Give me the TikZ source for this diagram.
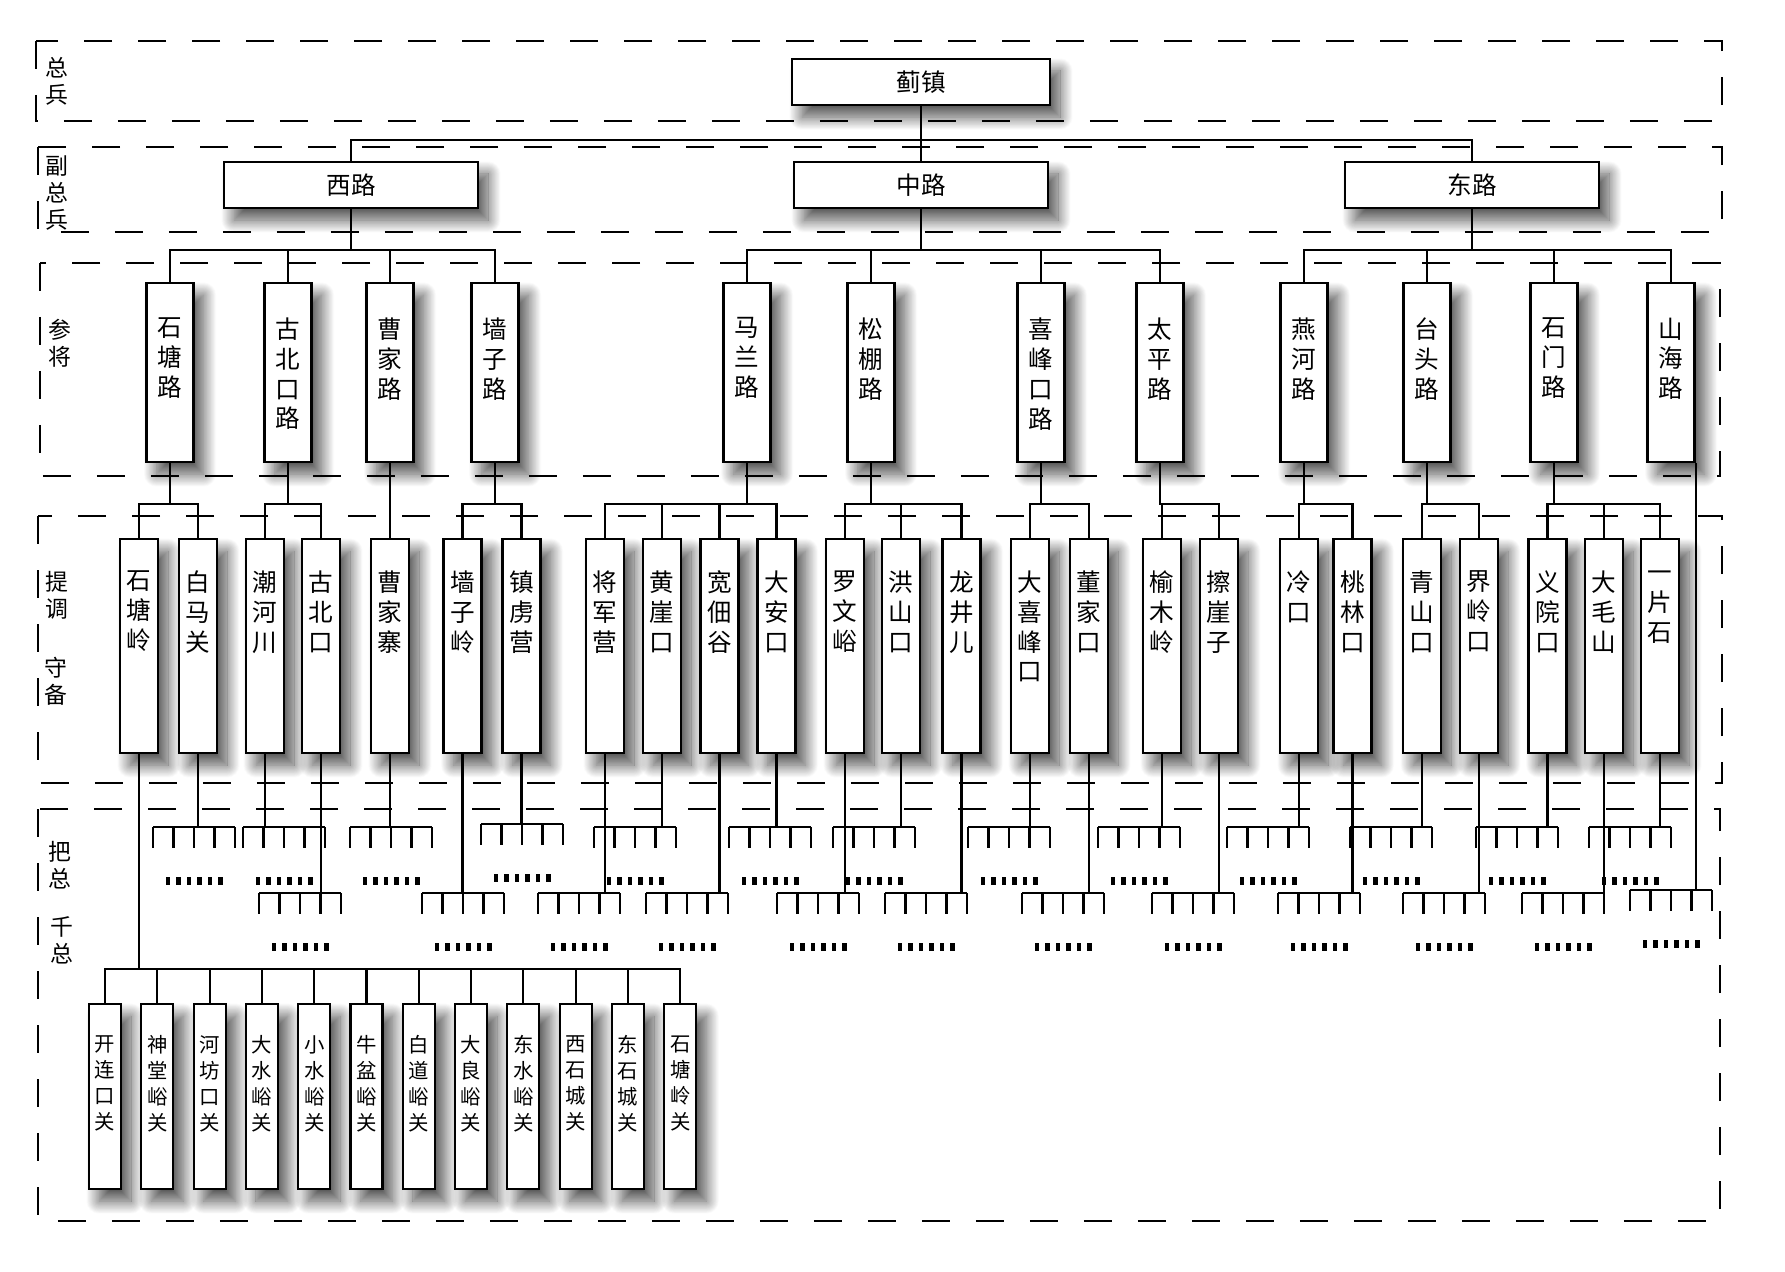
\documentclass[tikz,border=0pt]{standalone}
\usepackage{fontspec}
\setmainfont{Noto Sans CJK SC}
\usepackage{tikz}
\usetikzlibrary{shadows.blur}

\begin{document}
\begin{tikzpicture}[
    x=0.1mm, y=-0.1mm,
    band/.style={line width=0.8pt, dash pattern=on 2.8mm off 2.6mm},
    conn/.style={line width=0.6pt},
    box/.style={draw, rectangle, fill=white, line width=0.6pt, blur shadow={shadow xshift=1mm, shadow yshift=-1.2mm, shadow blur radius=1.3mm, shadow blur steps=30, shadow opacity=70}},
    head/.style={box, minimum width=25.4mm, minimum height=3.9mm, font=\fontsize{7}{8.5}\selectfont},
    vtext/.style={align=center, inner sep=0pt, anchor=north},
    pillar/.style={box, anchor=north, minimum width=4.7mm, minimum height=17.9mm, label={[vtext, yshift=-3.5mm, font=\fontsize{7}{8.5}\selectfont]north:#1}},
    fort/.style={box, anchor=north, minimum width=3.8mm, minimum height=21.4mm, label={[vtext, yshift=-3.2mm, font=\fontsize{7}{8.5}\selectfont]north:#1}},
    gate/.style={box, anchor=north, minimum width=3.2mm, minimum height=18.5mm, label={[vtext, yshift=-3.2mm, font=\fontsize{5.8}{7.4}\selectfont]north:#1}},
    rank/.style={align=center, inner sep=0pt, font=\fontsize{6.5}{7.7}\selectfont},
    comb/.pic={
      \draw[conn] (0,0) -- (82,0);
      \foreach \tx in {0,20.5,41,61.5,82} \draw[conn] (\tx,0) -- (\tx,21);
      \foreach \dd in {0,...,5} \fill (12.5+10.5*\dd,50) rectangle ++(4.6,8);
    }
]
\useasboundingbox (0,0) rectangle (1785,1272);

% Rank bands
\draw[band] (36,41) rectangle (1722,121);
\draw[band] (38,147) rectangle (1722,232);
\draw[band] (40,263) rectangle (1720,476);
\draw[band] (38,516) rectangle (1722,783);
\draw[band] (38,809) rectangle (1720,1221);

\node (zongbing) [rank] at (57,81) {总\\兵};
\node (fuzongbing) [rank] at (57,193) {副\\总\\兵};
\node (canjiang) [rank] at (60,343) {参\\将};
\node (tidiao) [rank] at (57,595) {提\\调};
\node (shoubei) [rank] at (56,681) {守\\备};
\node (bazong) [rank] at (60,865) {把\\总};
\node (qianzong) [rank] at (62,940) {千\\总};

% Zongbing
\node (jizhen) [head, minimum width=25.8mm, minimum height=4.4mm] at (921,82) {蓟镇};

% Fuzongbing
\node (xilu) [head] at (351,185) {西路};
\node (zhonglu) [head] at (921,185) {中路};
\node (donglu) [head] at (1472,185) {东路};

% Canjiang
\node (shitanglu) [pillar={石\\塘\\路}] at (170,282) {};
\node (gubeikoulu) [pillar={古\\北\\口\\路}] at (288,282) {};
\node (caojialu) [pillar={曹\\家\\路}] at (390,282) {};
\node (qiangzilu) [pillar={墙\\子\\路}] at (495,282) {};
\node (malanlu) [pillar={马\\兰\\路}] at (747,282) {};
\node (songpenglu) [pillar={松\\棚\\路}] at (871,282) {};
\node (xifengkoulu) [pillar={喜\\峰\\口\\路}] at (1041,282) {};
\node (taipinglu) [pillar={太\\平\\路}] at (1160,282) {};
\node (yanhelu) [pillar={燕\\河\\路}] at (1304,282) {};
\node (taitoulu) [pillar={台\\头\\路}] at (1427,282) {};
\node (shimenlu) [pillar={石\\门\\路}] at (1554,282) {};
\node (shanhailu) [pillar={山\\海\\路}] at (1671,282) {};

% Tidiao / Shoubei
\node (shitangling) [fort={石\\塘\\岭}] at (139,538) {};
\node (baimaguan) [fort={白\\马\\关}] at (198,538) {};
\node (chaohechuan) [fort={潮\\河\\川}] at (265,538) {};
\node (gubeikou) [fort={古\\北\\口}] at (321,538) {};
\node (caojiazhai) [fort={曹\\家\\寨}] at (390,538) {};
\node (qiangziling) [fort={墙\\子\\岭}] at (462.5,538) {};
\node (zhenluying) [fort={镇\\虏\\营}] at (521.5,538) {};
\node (jiangjunying) [fort={将\\军\\营}] at (605,538) {};
\node (huangyakou) [fort={黄\\崖\\口}] at (662,538) {};
\node (kuandiangu) [fort={宽\\佃\\谷}] at (719.5,538) {};
\node (daankou) [fort={大\\安\\口}] at (776.5,538) {};
\node (luowenyu) [fort={罗\\文\\峪}] at (845,538) {};
\node (hongshankou) [fort={洪\\山\\口}] at (901,538) {};
\node (longjinger) [fort={龙\\井\\儿}] at (961.5,538) {};
\node (daxifengkou) [fort={大\\喜\\峰\\口}] at (1030,538) {};
\node (dongjiakou) [fort={董\\家\\口}] at (1089,538) {};
\node (yumuling) [fort={榆\\木\\岭}] at (1162,538) {};
\node (cayazi) [fort={擦\\崖\\子}] at (1219,538) {};
\node (lengkou) [fort={冷\\口}] at (1299,538) {};
\node (taolinkou) [fort={桃\\林\\口}] at (1352.5,538) {};
\node (qingshankou) [fort={青\\山\\口}] at (1422,538) {};
\node (jielingkou) [fort={界\\岭\\口}] at (1479,538) {};
\node (yiyuankou) [fort={义\\院\\口}] at (1547.5,538) {};
\node (damaoshan) [fort={大\\毛\\山}] at (1604,538) {};
\node (yipianshi) [fort={一\\片\\石}] at (1660,538) {};

% Tree links
\draw[conn] (jizhen.south) -- ++(0,34) -| (xilu.north);
\draw[conn] (jizhen.south) -- ++(0,34) -| (zhonglu.north);
\draw[conn] (jizhen.south) -- ++(0,34) -| (donglu.north);
\foreach \a/\b in {xilu/shitanglu, xilu/gubeikoulu, xilu/caojialu, xilu/qiangzilu, zhonglu/malanlu, zhonglu/songpenglu, zhonglu/xifengkoulu, zhonglu/taipinglu, donglu/yanhelu, donglu/taitoulu, donglu/shimenlu, donglu/shanhailu}
  \draw[conn] (\a.south) -- ++(0,41) -| (\b.north);
\foreach \a/\b in {shitanglu/shitangling, shitanglu/baimaguan, gubeikoulu/chaohechuan, gubeikoulu/gubeikou, caojialu/caojiazhai, qiangzilu/qiangziling, qiangzilu/zhenluying, malanlu/jiangjunying, malanlu/huangyakou, malanlu/kuandiangu, malanlu/daankou, songpenglu/luowenyu, songpenglu/hongshankou, songpenglu/longjinger, xifengkoulu/daxifengkou, xifengkoulu/dongjiakou, taipinglu/yumuling, taipinglu/cayazi, yanhelu/lengkou, yanhelu/taolinkou, taitoulu/qingshankou, taitoulu/jielingkou, shimenlu/yiyuankou, shimenlu/damaoshan, shimenlu/yipianshi}
  \draw[conn] (\a.south) -- ++(0,41) -| (\b.north);

% Bazong / Qianzong combs
\foreach \cx/\cy/\src in {153/827/baimaguan, 243/827/chaohechuan, 350/827/caojiazhai, 481/824/zhenluying, 594/827/huangyakou, 729/827/daankou, 833/827/hongshankou, 968/827/daxifengkou, 1098/827/yumuling, 1227/827/lengkou, 1350/827/qingshankou, 1476/827/yiyuankou, 1589/827/yipianshi, 259/893/gubeikou, 422/893/qiangziling, 538/893/jiangjunying, 646/893/kuandiangu, 777/893/luowenyu, 885/893/longjinger, 1022/893/dongjiakou, 1152/893/cayazi, 1278/893/taolinkou, 1403/893/jielingkou, 1522/893/damaoshan}{
  \pic at (\cx,\cy) {comb};
  \coordinate (bar) at (\cx,\cy);
  \draw[conn] (\src.south) -- (\src.south |- bar);
}
\pic at (1630,890) {comb};
\coordinate (shanhaibar) at (1630,890);
\draw[conn] (shanhailu.south east) -- (shanhailu.south east |- shanhaibar);

% Passes under Shitangling
\foreach \nm/\txt [count=\i from 0] in {kailiankou/开\\连\\口\\关, shentangyu/神\\堂\\峪\\关, hefangkou/河\\坊\\口\\关, dashuiyu/大\\水\\峪\\关, xiaoshuiyu/小\\水\\峪\\关, niupenyu/牛\\盆\\峪\\关, baidaoyu/白\\道\\峪\\关, daliangyu/大\\良\\峪\\关, dongshuiyu/东\\水\\峪\\关, xishicheng/西\\石\\城\\关, dongshicheng/东\\石\\城\\关, shitanglingguan/石\\塘\\岭\\关}{
  \node (\nm) [gate=\txt] at (105+52.3*\i,1003) {};
  \draw[conn] (shitangling.south) -- ++(0,215) -| (\nm.north);
}

\end{tikzpicture}
\end{document}
